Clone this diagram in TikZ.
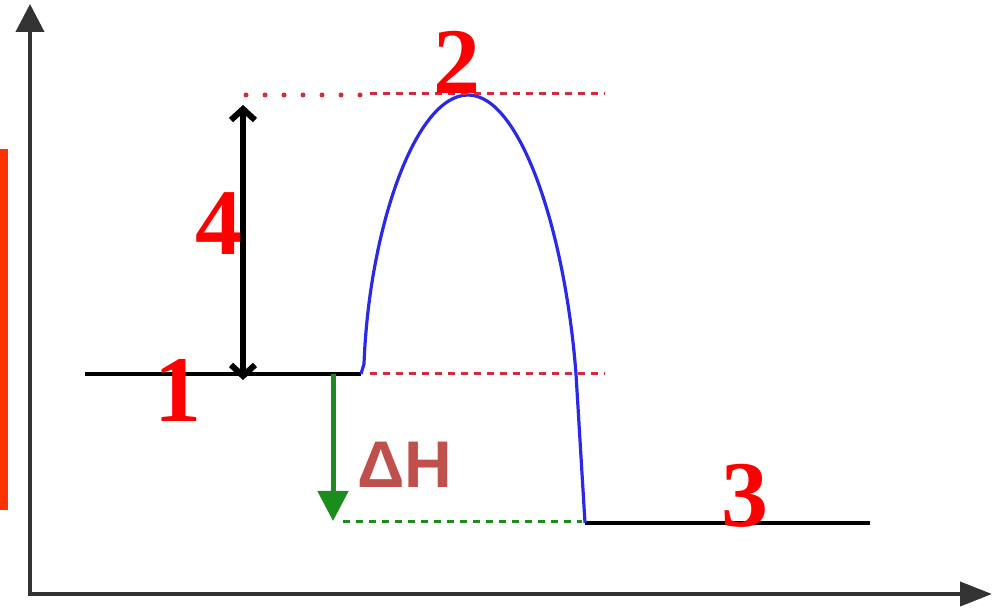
\documentclass[tikz,border=0pt]{standalone}
\usepackage{fontspec}
\setmainfont{Liberation Serif}
\newfontfamily\labsans{Liberation Sans}
\usetikzlibrary{arrows.meta,positioning,calc}
\definecolor{BarRed}{HTML}{FF3300}
\definecolor{LabRed}{HTML}{FF0000}
\definecolor{DashRed}{HTML}{D42A3A}
\definecolor{PathBlue}{HTML}{2A2AE6}
\definecolor{DropGreen}{HTML}{1C8C1C}
\definecolor{DeltaRed}{HTML}{C0504D}
\definecolor{AxisInk}{HTML}{333333}

\begin{document}
\begin{tikzpicture}[x=1pt,y=-1pt,
  numlab/.style={text=LabRed,font=\fontsize{94}{94}\selectfont\bfseries,inner sep=0pt},
  level/.style={black,line width=3.2pt},
  guide/.style={DashRed,line width=3pt,dash pattern=on 7pt off 6pt}]
\useasboundingbox (0,0) rectangle (1002,609);
\fill[BarRed] (0,149) rectangle (8,510);
% axes
\coordinate (o) at (30,596);
\coordinate (ytop) at (30,4);
\coordinate (xend) at (992,594);
\draw[AxisInk,line width=4pt,-{Triangle[length=28pt,width=28pt]}] (o)--(ytop);
\draw[AxisInk,line width=4pt,-{Triangle[length=32pt,width=24pt]}] (28,594)--(xend);
% energy levels
\coordinate (r0) at (85,374);\coordinate (r1) at (361,374);
\coordinate (p0) at (585,523);\coordinate (p1) at (870,523);
\coordinate (top) at (468,95);
\draw[level] (r0)--(r1);
\draw[level] (p0)--(p1);
\draw[PathBlue,line width=3.2pt] (r1)--(364,364) .. controls (369,230) and (415,95) .. (top)
  .. controls (520,95) and (565,230) .. (576,374)--(p0);
% guide lines
\draw[DashRed,line width=5pt,line cap=round,dash pattern=on 0pt off 19pt] (246,95)--(360,95);
\draw[guide] (370,94)--(605,94);
\draw[guide] (370,374)--(605,374);
\draw[DropGreen,line width=3pt,dash pattern=on 7pt off 6pt] (343,522)--(582,522);
% arrows
\coordinate (ea) at (243,105);\coordinate (eb) at (243,380);
\draw[black,line width=6pt,{Straight Barb[length=11pt,width=24pt]}-{Straight Barb[length=11pt,width=24pt]}] (ea)--(eb);
\coordinate (dh0) at (333,374);\coordinate (dh1) at (333,521);
\draw[DropGreen,line width=5pt,-{Triangle[length=30pt,width=30pt]}] (dh0)--(dh1);
% labels
\node[numlab] (n1) at (178,390){1};
\node[numlab] (n2) at (457,62){2};
\node[numlab] (n3) at (745,496){3};
\node[numlab] (n4) at (219,224){4};
\node[text=DeltaRed,font=\labsans\fontsize{66}{66}\selectfont\bfseries,inner sep=0pt] (dh) at (405,465){ΔH};
\end{tikzpicture}
\end{document}
